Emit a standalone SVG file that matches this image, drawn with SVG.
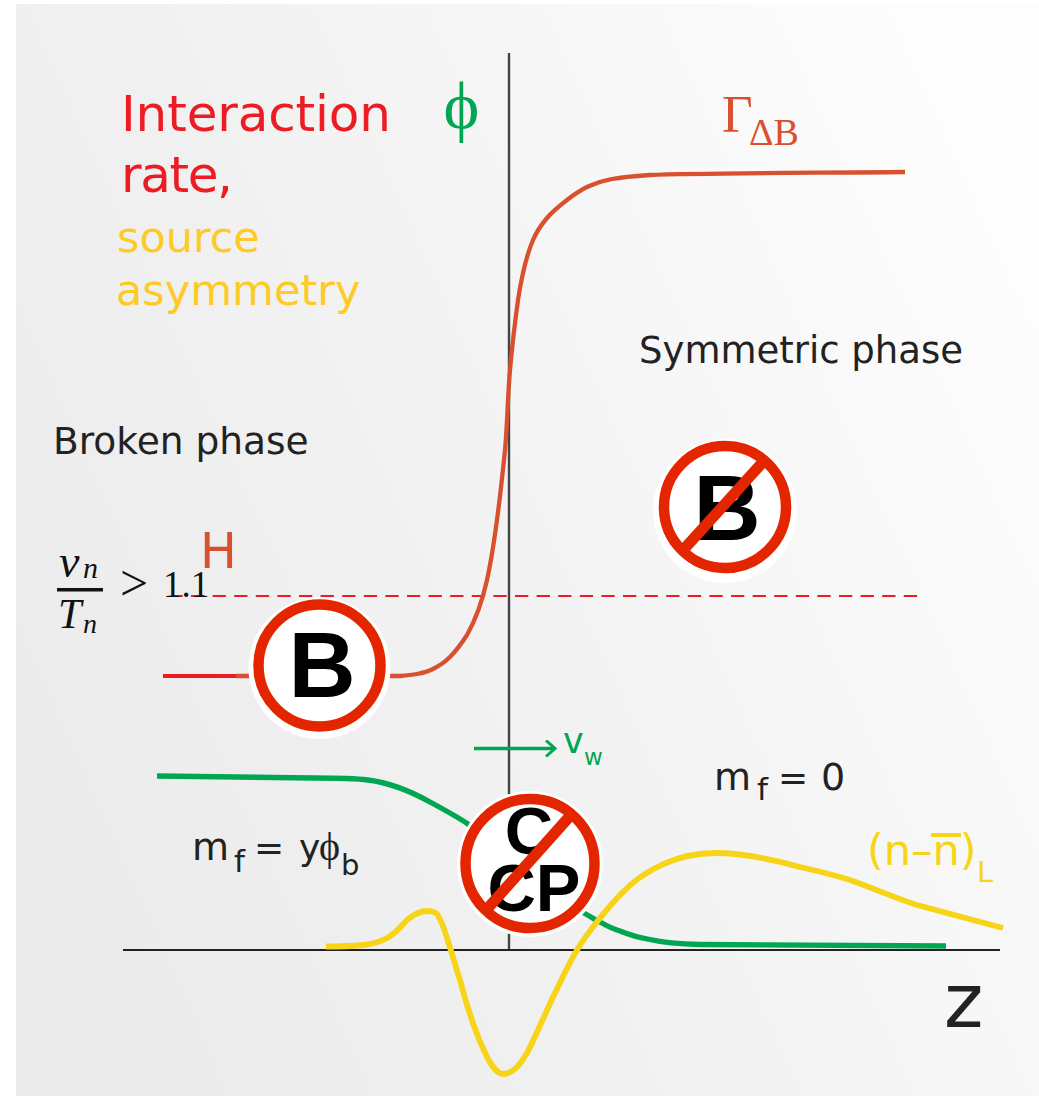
<svg xmlns="http://www.w3.org/2000/svg" width="1039" height="1096" viewBox="0 0 1039 1096">
<defs>
<linearGradient id="bg" gradientUnits="userSpaceOnUse" x1="16" y1="760" x2="1039" y2="300"><stop offset="0" stop-color="#ebebeb"/><stop offset="0.5" stop-color="#f3f3f3"/><stop offset="1" stop-color="#fdfdfd"/></linearGradient>
<marker id="arr" markerWidth="14" markerHeight="20" refX="11" refY="9" orient="auto" markerUnits="userSpaceOnUse"><path d="M2 1 L11 9 L2 17" fill="none" stroke="#00a651" stroke-width="3"/></marker>
</defs>
<style>
.s{font-family:"DejaVu Sans","Liberation Sans",sans-serif}
.d{fill:#222}
.m{font-family:"Liberation Serif","DejaVu Serif",serif;fill:#111}
.g{font-family:"Liberation Serif","DejaVu Serif",serif}
.b{font-family:"Liberation Sans",Arial,sans-serif;font-weight:700;fill:#000;text-anchor:middle}
.c{fill:none;stroke-linecap:butt;stroke-linejoin:round}
.ring{fill:#fff;stroke:#e42600;stroke-width:10.5}
.halo{fill:#fff}
.bar{stroke:#e42600;stroke-width:11}
</style>
<rect width="1039" height="1096" fill="#fff"/>
<rect x="16" y="4" width="1023" height="1092" fill="url(#bg)"/>
<g id="connectors">
<line id="wall" x1="509" y1="53" x2="509" y2="950" stroke="#444" stroke-width="2.4"/>
<line id="axis" x1="123" y1="950" x2="1000" y2="950" stroke="#222" stroke-width="2"/>
<line id="vev" x1="173" y1="596" x2="918" y2="596" stroke="#ed1c24" stroke-width="2.200" stroke-dasharray="13.300 8.300" stroke-dashoffset="3.600"/>
<path id="rate-low" class="c" d="M163 676H236" stroke="#ed1c24" stroke-width="4.200"/>
<path id="rate" class="c" stroke="#d9502f" stroke-width="4.300" d="M236 676H400C406 675.500 411.500 675 417 674C422.500 673 427.500 671.800 433 669C438.500 666.200 444.300 662.700 450 657C455.700 651.300 461.500 643.500 467 635C476 619 483 598 487 580C494 548 501 490 505 450C507.200 426.700 507.800 395 510 370C512.200 345 515.800 316.200 518 300C519.500 290 521 282 523 273C525.500 262 529 249.200 533 240C537 230.800 541.300 224.700 547 218C552.700 211.300 560.300 205.200 567 200C573.700 194.800 579.500 190.500 587 187C594.500 183.500 601.500 181 612 179C622.500 177 635 176 650 175C700 173 800 173 905 172"/>
<path id="mass" class="c" stroke="#00a651" stroke-width="5.300" d="M157 776L313 778C335 778 352 778 368 780C392 783 412 792 430 802C443 809 456 816 468 824C500 845 540 885 582 912C590 916 595 920 600 922C607 926 613 929 620 931C630 935 640 938 650 939.500C665 943 680 944 700 944.500L946 946"/>
<path id="source" class="c" stroke="#f7d417" stroke-width="5.800" d="M326 946.500C340 946.500 352 946 363 945C372 944 380 942 387 938C395 934 401 926 407 920C413 915 420 911 427 911C432 911 435 912 437 914C441 920 444 928 447 938C451 950 455 965 460 980C464 995 468 1009 473 1023C477 1035 482 1047 487 1057C492 1066 497 1074 503 1074C509 1074 513 1071 517 1067C521 1063 524 1058 527 1053C531 1046 534 1038 538 1030C543 1019 548 1008 553 997C560 983 568 965 577 950C584 938 592 928 600 918C606 911 613 902 620 895C645 868 680 853 715 853C745 853 775 860 800 867C818 871 834 875 850 880C873 888 895 898 917 905L1003 928"/>
<line id="vw-arrow" x1="474" y1="748.500" x2="555" y2="748.500" stroke="#00a651" stroke-width="3.500" marker-end="url(#arr)"/>
</g>
<g id="title" class="s"><text x="121" y="131" font-size="50" fill="#ed1c24" textLength="270" lengthAdjust="spacing">Interaction</text><text x="121" y="192" font-size="50" fill="#ed1c24" textLength="112" lengthAdjust="spacing">rate,</text><text x="117" y="252" font-size="43" fill="#fdca26">source</text><text x="116" y="305" font-size="43" fill="#fdca26">asymmetry</text></g>
<g id="phi"><text x="461.500" y="129" font-size="68" fill="#00a651" text-anchor="middle" class="g">ϕ</text></g>
<g id="gamma"><text x="722" y="132" font-size="53" fill="#d9502f" class="g">Γ</text><text x="749" y="145" font-size="38" fill="#d9502f" class="g">ΔB</text></g>
<g id="symmetric"><text x="639" y="363" font-size="37" class="s d">Symmetric phase</text></g>
<g id="broken"><text x="53" y="454" font-size="37.500" class="s d">Broken phase</text></g>
<g id="h"><text x="200" y="568" font-size="49" fill="#d9502f" class="s">H</text></g>
<g id="ratio"><text x="59" y="577" font-size="46" font-style="italic" class="m">v</text><text x="83" y="578" font-size="30" font-style="italic" class="m">n</text><rect x="57" y="588" width="46" height="3.500" fill="#111"/><text x="58" y="628" font-size="42" font-style="italic" class="m">T</text><text x="83" y="633" font-size="28" font-style="italic" class="m">n</text><text x="120" y="600" font-size="50" class="m">&gt;</text><text x="163" y="597" font-size="37" class="m">1.1</text></g>
<g id="no-b"><circle class="halo" cx="725" cy="511" r="72"/><circle class="ring" cx="725" cy="507" r="61"/><text class="b" x="727" y="540" font-size="93">B</text><line class="bar" x1="685" y1="548" x2="763" y2="462"/></g>
<g id="b"><circle class="halo" cx="319.500" cy="668" r="71"/><circle class="ring" cx="319.500" cy="665.500" r="61"/><text class="b" x="322" y="697" font-size="93">B</text></g>
<g id="vw"><text x="563" y="753" font-size="35" fill="#00a651" class="s">v</text><text x="584" y="765" font-size="23" fill="#00a651" class="s">w</text></g>
<g id="mf0" class="s d"><text x="714" y="790" font-size="38">m</text><text x="757" y="800" font-size="31">f</text><text x="778" y="790" font-size="36">=</text><text x="821" y="790" font-size="38">0</text></g>
<g id="mfy" class="s d"><text x="192" y="860" font-size="38">m</text><text x="234" y="872" font-size="31">f</text><text x="254" y="860" font-size="36">=</text><text x="299" y="860" font-size="36">y</text><text x="319" y="860" font-size="40" class="g">ϕ</text><text x="341" y="875" font-size="29">b</text></g>
<g id="no-cp"><circle class="halo" cx="530" cy="864" r="73"/><circle class="ring" cx="530" cy="863.500" r="64.500"/><text class="b" x="529" y="854" font-size="67">C</text><text class="b" x="534" y="911" font-size="67">CP</text><line class="bar" x1="488" y1="908" x2="570" y2="816"/></g>
<g id="asym" fill="#f7d417" class="s"><text x="867" y="865" font-size="43">(n–n)</text><rect x="931" y="833" width="30" height="4"/><text x="977" y="882" font-size="29">L</text></g>
<g id="z"><text x="944" y="1027" font-size="75" class="s d">z</text></g>
</svg>
